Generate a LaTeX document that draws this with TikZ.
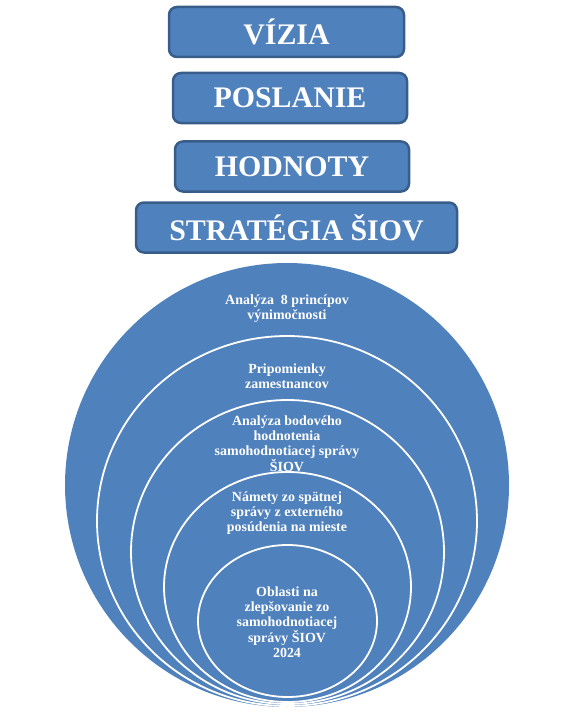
\documentclass[tikz,border=0pt]{standalone}
\usepackage{fontspec}
\setmainfont{Liberation Serif}
\usetikzlibrary{calc}

\definecolor{officeblue}{HTML}{4F81BD}
\definecolor{officeedge}{HTML}{385D8A}

\tikzset{
    titlebox/.style={rectangle, rounded corners=8bp, draw=officeedge,
        line width=2.5bp, fill=officeblue, text=white, inner sep=0pt,
        minimum height=50bp, font=\fontsize{30}{32}\selectfont\bfseries},
    ring/.style={fill=officeblue, draw=white, line width=1.8bp},
    ringtext/.style={text=white, align=center, inner sep=0pt,
        font=\fontsize{14}{15}\selectfont\bfseries}
}

\begin{document}
\begin{tikzpicture}[x=1bp,y=-1bp]

\useasboundingbox (0,0) rectangle (576,717);

%====================================================
% Rámčeky hore
%====================================================

\node[titlebox, minimum width=235bp] (vizia) at (286.5,32) {VÍZIA};
\node[titlebox, minimum width=234bp] (poslanie) at (290,98) {POSLANIE};
\node[titlebox, minimum width=234bp] (hodnoty) at (292,166.5) {HODNOTY};
\node[titlebox, minimum width=321bp] (strategia) at (296.5,227.5) {STRATÉGIA ŠIOV};

%====================================================
% Vnorené kruhy
%====================================================

\coordinate (K1) at (287,485);
\coordinate (K2) at (287,521);
\coordinate (K3) at (287.5,552);
\coordinate (K4) at (287.5,587);
\coordinate (K5) at (287.5,621);

\fill[officeblue] (K1) circle (222);
\draw[ring] (K2) ellipse (190 and 185);
\draw[ring] (K3) ellipse (156.5 and 152);
\draw[ring] (K4) ellipse (123.5 and 115);
\draw[ring] (K5) ellipse (89.5 and 76);

%====================================================
% Texty v kruhoch
%====================================================

\node[ringtext] (principy) at (287,309) {Analýza\ \ 8 princípov\\výnimočnosti};
\node[ringtext] (pripomienky) at (287,376) {Pripomienky\\zamestnancov};
\node[ringtext] (bodovanie) at (287,444) {Analýza bodového\\hodnotenia\\samohodnotiacej správy\\ŠIOV};
\node[ringtext] (namety) at (287,513) {Námety zo spätnej\\správy z externého\\posúdenia na mieste};
\node[ringtext] (oblasti) at (287,622) {Oblasti na\\zlepšovanie zo\\samohodnotiacej\\správy ŠIOV\\2024};

\end{tikzpicture}
\end{document}
